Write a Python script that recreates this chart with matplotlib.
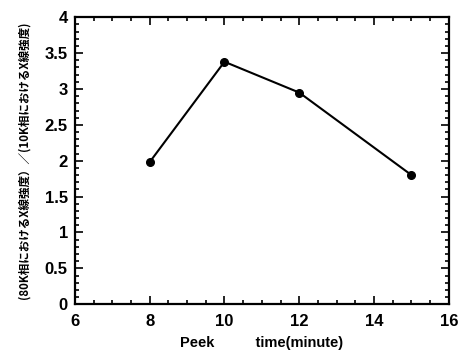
import matplotlib
matplotlib.use("Agg")
import matplotlib.pyplot as plt
from matplotlib.ticker import MultipleLocator

# Peak time vs. intensity ratio (80K phase / 10K phase)
peak_time = [8.0, 10.0, 12.0, 15.0]
ratio = [1.98, 3.38, 2.95, 1.8]

x_label = "Peek          time(minute)"
y_label = "(80K相におけるX線強度）／(10K相におけるX線強度)"

plt.rcParams['font.family'] = ['Liberation Sans', 'Noto Sans CJK JP', 'DejaVu Sans']

fig = plt.figure(figsize=(4.59, 3.6), dpi=100)
ax = fig.add_axes([0.163, 0.155, 0.815, 0.797])

ax.plot(peak_time, ratio, color='black', lw=1.5, marker='o', ms=5.5)

ax.set_xlim(6, 16)
ax.set_ylim(0, 4)
ax.xaxis.set_major_locator(MultipleLocator(2))
ax.xaxis.set_minor_locator(MultipleLocator(0.5))
ax.yaxis.set_major_locator(MultipleLocator(0.5))
ax.yaxis.set_minor_locator(MultipleLocator(0.1))
ax.yaxis.set_major_formatter(plt.FuncFormatter(lambda v, p: f"{v:g}"))

ax.tick_params(which='both', direction='in', top=True, right=True, width=1.2)
ax.tick_params(which='major', length=6, labelsize=12)
ax.tick_params(which='minor', length=3)
ax.tick_params(axis='x', which='major', pad=7)
ax.tick_params(axis='y', which='major', pad=5)
for lab in ax.get_xticklabels() + ax.get_yticklabels():
    lab.set_fontweight('bold')
for s in ax.spines.values():
    s.set_linewidth(1.6)

ax.set_xlabel(x_label, fontsize=10.5, fontweight='bold', labelpad=5)
ax.set_ylabel(y_label, fontsize=8.3, fontweight='bold', labelpad=10,
              family=['Noto Sans CJK JP', 'DejaVu Sans'])

fig.savefig("out.png", dpi=100)
